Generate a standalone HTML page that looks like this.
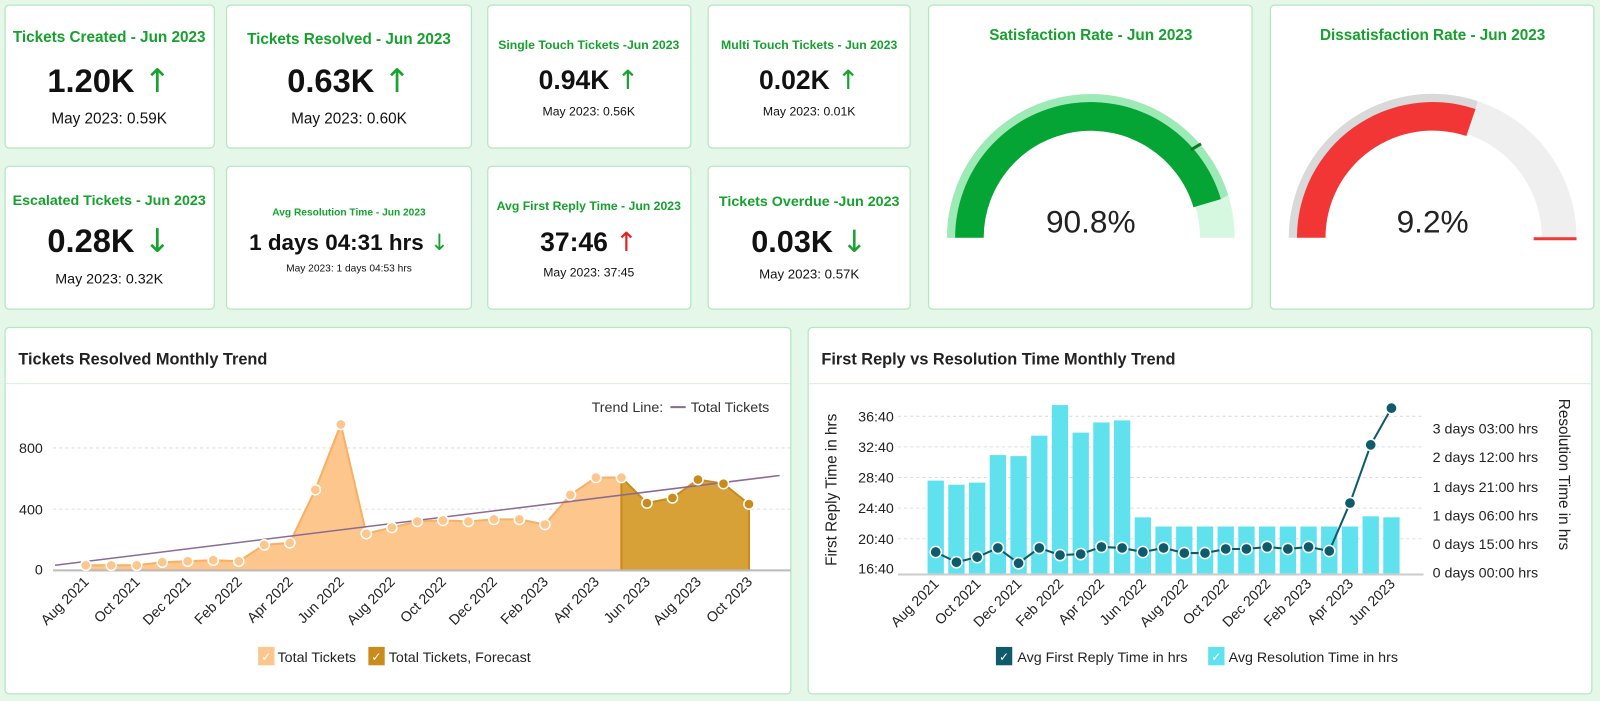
<!DOCTYPE html>
<html><head><meta charset="utf-8"><style>
html,body{margin:0;padding:0;background:#e4f7e9;}
svg{display:block;font-family:"Liberation Sans",sans-serif;}
.t{fill:#16a12e;font-weight:bold;text-anchor:middle;}
.v{fill:#111;font-weight:bold;text-anchor:middle;}
.s{fill:#111;text-anchor:middle;}
.ar{font-family:"DejaVu Sans",sans-serif;font-weight:normal;fill:#17a32f;}
.ax{fill:#222;font-size:14px;}
</style></head><body>
<svg width="1600" height="701" viewBox="0 0 1568 687" preserveAspectRatio="none">
<rect width="1568" height="687" fill="#e4f7e9"/>
<g fill="#fff" stroke="#b4e6c2" stroke-width="1.2">
<rect x="5" y="5" width="205" height="140" rx="4"/>
<rect x="222" y="5" width="240" height="140" rx="4"/>
<rect x="478" y="5" width="199" height="140" rx="4"/>
<rect x="694" y="5" width="198" height="140" rx="4"/>
<rect x="5" y="163" width="205" height="140" rx="4"/>
<rect x="222" y="163" width="240" height="140" rx="4"/>
<rect x="478" y="163" width="199" height="140" rx="4"/>
<rect x="694" y="163" width="198" height="140" rx="4"/>
<rect x="910" y="5" width="317" height="298" rx="4"/>
<rect x="1245" y="5" width="317" height="298" rx="4"/>
<rect x="5" y="321" width="770" height="359" rx="4"/>
<rect x="792" y="321" width="768" height="359" rx="4"/>
</g>
<!-- KPI row 1 -->
<text class="t" x="107" y="41" font-size="15">Tickets Created - Jun 2023</text>
<text class="v" x="107" y="90" font-size="32">1.20K <tspan class="ar">↑</tspan></text>
<text class="s" x="107" y="121" font-size="15">May 2023: 0.59K</text>
<text class="t" x="342" y="43" font-size="15">Tickets Resolved - Jun 2023</text>
<text class="v" x="342" y="90" font-size="32">0.63K <tspan class="ar">↑</tspan></text>
<text class="s" x="342" y="121" font-size="15">May 2023: 0.60K</text>
<text class="t" x="577" y="48" font-size="12">Single Touch Tickets -Jun 2023</text>
<text class="v" x="577" y="87" font-size="26">0.94K <tspan class="ar">↑</tspan></text>
<text class="s" x="577" y="113" font-size="12">May 2023: 0.56K</text>
<text class="t" x="793" y="48" font-size="12">Multi Touch Tickets - Jun 2023</text>
<text class="v" x="793" y="87" font-size="26">0.02K <tspan class="ar">↑</tspan></text>
<text class="s" x="793" y="113" font-size="12">May 2023: 0.01K</text>
<!-- KPI row 2 -->
<text class="t" x="107" y="201" font-size="14">Escalated Tickets - Jun 2023</text>
<text class="v" x="107" y="247" font-size="32">0.28K <tspan class="ar">↓</tspan></text>
<text class="s" x="107" y="278" font-size="14">May 2023: 0.32K</text>
<text class="t" x="342" y="211" font-size="10">Avg Resolution Time - Jun 2023</text>
<text class="v" x="342" y="245" font-size="22">1 days 04:31 hrs <tspan class="ar">↓</tspan></text>
<text class="s" x="342" y="266" font-size="10">May 2023: 1 days 04:53 hrs</text>
<text class="t" x="577" y="206" font-size="12">Avg First Reply Time - Jun 2023</text>
<text class="v" x="577" y="246" font-size="26">37:46 <tspan class="ar" style="fill:#e52222">↑</tspan></text>
<text class="s" x="577" y="271" font-size="12">May 2023: 37:45</text>
<text class="t" x="793" y="202" font-size="14">Tickets Overdue -Jun 2023</text>
<text class="v" x="793" y="247" font-size="30">0.03K <tspan class="ar">↓</tspan></text>
<text class="s" x="793" y="273" font-size="13">May 2023: 0.57K</text>
<!-- Gauge 1 -->
<text class="t" x="1069" y="39" font-size="15">Satisfaction Rate - Jun 2023</text>
<path d="M928,233 A141,141 0 0 1 1210,233 L1176,233 A107,107 0 0 0 962,233 Z" fill="#d6f8e1"/>
<path d="M928,233 A141,141 0 0 1 1203.6,191.2 L1196.5,195.1 A133,133 0 0 0 936,233 Z" fill="#9eeab6"/>
<path d="M936,233 A133,133 0 0 1 1196.5,195.1 L1169.6,203.1 A105,105 0 0 0 964,233 Z" fill="#05a535"/>
<line x1="1167" y1="147" x2="1177" y2="141" stroke="#0a7a2a" stroke-width="3"/>
<text x="1069" y="228" font-size="31" fill="#222" text-anchor="middle">90.8%</text>
<!-- Gauge 2 -->
<text class="t" x="1404" y="39" font-size="15">Dissatisfaction Rate - Jun 2023</text>
<path d="M1263,233 A141,141 0 0 1 1545,233 L1511,233 A107,107 0 0 0 1297,233 Z" fill="#efefef"/>
<path d="M1263,233 A141,141 0 0 1 1448,99 L1446,107 A133,133 0 0 0 1271,233 Z" fill="#d9d9d9"/>
<path d="M1271,233 A133,133 0 0 1 1446,106.8 L1437,133.3 A105,105 0 0 0 1299,233 Z" fill="#f23636"/>
<line x1="1503" y1="234" x2="1545" y2="234" stroke="#f23636" stroke-width="3"/>
<text x="1404" y="228" font-size="31" fill="#222" text-anchor="middle">9.2%</text>
<!-- Left chart -->
<text x="18" y="357" font-size="16" font-weight="bold" fill="#222">Tickets Resolved Monthly Trend</text>
<line x1="6" y1="376" x2="774" y2="376" stroke="#d6f0dd"/>
<text x="650" y="404" font-size="14" fill="#333" text-anchor="end">Trend Line:</text>
<line x1="657" y1="399" x2="672" y2="399" stroke="#8b6a94" stroke-width="2"/>
<text x="677" y="404" font-size="14" fill="#333">Total Tickets</text>
<g stroke="#ddd" stroke-dasharray="3,3"><line x1="52" y1="439" x2="775" y2="439"/><line x1="52" y1="499" x2="775" y2="499"/></g>
<g class="ax" text-anchor="end"><text x="42" y="444">800</text><text x="42" y="504">400</text><text x="42" y="563">0</text></g>
<path d="M84,554 L109,554 134,554 159,551 184,550 209,549 234,550 259,534 284,532 309,480 334,416 359,523 384,517 409,511 434,510 459,511 484,509 509,509 534,514 559,485 584,468 609,468 L609,559 L84,559 Z" fill="#fdc68c" stroke="#f8b064" stroke-width="2"/>
<path d="M609,468 L634,493 659,488 684,470 709,474 734,494 L734,559 L609,559 Z" fill="#d8a137" stroke="#c98b1c" stroke-width="2"/>
<line x1="52" y1="559" x2="775" y2="559" stroke="#bbb" stroke-width="2"/>
<line x1="54" y1="554" x2="764" y2="466" stroke="#8b6a94" stroke-width="1.5"/>
<g fill="#fdc68c" stroke="#fff" stroke-width="1.5">
<circle cx="84" cy="554" r="5"/><circle cx="109" cy="554" r="5"/><circle cx="134" cy="554" r="5"/><circle cx="159" cy="551" r="5"/><circle cx="184" cy="550" r="5"/><circle cx="209" cy="549" r="5"/><circle cx="234" cy="550" r="5"/><circle cx="259" cy="534" r="5"/><circle cx="284" cy="532" r="5"/><circle cx="309" cy="480" r="5"/><circle cx="334" cy="416" r="5"/><circle cx="359" cy="523" r="5"/><circle cx="384" cy="517" r="5"/><circle cx="409" cy="511" r="5"/><circle cx="434" cy="510" r="5"/><circle cx="459" cy="511" r="5"/><circle cx="484" cy="509" r="5"/><circle cx="509" cy="509" r="5"/><circle cx="534" cy="514" r="5"/><circle cx="559" cy="485" r="5"/><circle cx="584" cy="468" r="5"/><circle cx="609" cy="468" r="5"/>
</g>
<g fill="#c98b1c" stroke="#fff" stroke-width="1.5">
<circle cx="634" cy="493" r="5"/><circle cx="659" cy="488" r="5"/><circle cx="684" cy="470" r="5"/><circle cx="709" cy="474" r="5"/><circle cx="734" cy="494" r="5"/>
</g>
<g class="ax" text-anchor="end">
<text transform="translate(88,571) rotate(-45)">Aug 2021</text>
<text transform="translate(138,571) rotate(-45)">Oct 2021</text>
<text transform="translate(188,571) rotate(-45)">Dec 2021</text>
<text transform="translate(238,571) rotate(-45)">Feb 2022</text>
<text transform="translate(288,571) rotate(-45)">Apr 2022</text>
<text transform="translate(338,571) rotate(-45)">Jun 2022</text>
<text transform="translate(388,571) rotate(-45)">Aug 2022</text>
<text transform="translate(438,571) rotate(-45)">Oct 2022</text>
<text transform="translate(488,571) rotate(-45)">Dec 2022</text>
<text transform="translate(538,571) rotate(-45)">Feb 2023</text>
<text transform="translate(588,571) rotate(-45)">Apr 2023</text>
<text transform="translate(638,571) rotate(-45)">Jun 2023</text>
<text transform="translate(688,571) rotate(-45)">Aug 2023</text>
<text transform="translate(738,571) rotate(-45)">Oct 2023</text>
</g>
<rect x="253" y="634" width="16" height="18" fill="#fdc68c"/><text x="256" y="648" font-size="12" fill="#fff">✓</text>
<text x="272" y="649" font-size="14" fill="#222">Total Tickets</text>
<rect x="361" y="634" width="16" height="18" fill="#c98b1c"/><text x="364" y="648" font-size="12" fill="#fff">✓</text>
<text x="381" y="649" font-size="14" fill="#222">Total Tickets, Forecast</text>
<!-- Right chart -->
<text x="805" y="357" font-size="16" font-weight="bold" fill="#222">First Reply vs Resolution Time Monthly Trend</text>
<line x1="793" y1="376" x2="1559" y2="376" stroke="#d6f0dd"/>
<g stroke="#ddd" stroke-dasharray="3,3">
<line x1="880" y1="408" x2="1395" y2="408"/><line x1="880" y1="438" x2="1395" y2="438"/><line x1="880" y1="468" x2="1395" y2="468"/><line x1="880" y1="498" x2="1395" y2="498"/><line x1="880" y1="528" x2="1395" y2="528"/>
</g>
<g class="ax" text-anchor="end"><text x="876" y="413">36:40</text><text x="876" y="443">32:40</text><text x="876" y="473">28:40</text><text x="876" y="503">24:40</text><text x="876" y="533">20:40</text><text x="876" y="562">16:40</text></g>
<g class="ax"><text x="1404" y="425">3 days 03:00 hrs</text><text x="1404" y="453">2 days 12:00 hrs</text><text x="1404" y="482">1 days 21:00 hrs</text><text x="1404" y="510">1 days 06:00 hrs</text><text x="1404" y="538">0 days 15:00 hrs</text><text x="1404" y="566">0 days 00:00 hrs</text></g>
<text transform="translate(820,480) rotate(-90)" font-size="15" fill="#222" text-anchor="middle">First Reply Time in hrs</text>
<text transform="translate(1528,465) rotate(90)" font-size="15" fill="#222" text-anchor="middle">Resolution Time in hrs</text>
<g fill="#5fe2ee">
<rect x="909" y="471" width="16" height="91"/><rect x="929.3" y="475" width="16" height="87"/><rect x="949.6" y="473" width="16" height="89"/><rect x="969.9" y="446" width="16" height="116"/><rect x="990.2" y="447" width="16" height="115"/><rect x="1010.5" y="427" width="16" height="135"/><rect x="1030.8" y="397" width="16" height="165"/><rect x="1051.1" y="424" width="16" height="138"/><rect x="1071.4" y="414" width="16" height="148"/><rect x="1091.7" y="412" width="16" height="150"/><rect x="1112" y="507" width="16" height="55"/><rect x="1132.3" y="516" width="16" height="46"/><rect x="1152.6" y="516" width="16" height="46"/><rect x="1172.9" y="516" width="16" height="46"/><rect x="1193.2" y="516" width="16" height="46"/><rect x="1213.5" y="516" width="16" height="46"/><rect x="1233.8" y="516" width="16" height="46"/><rect x="1254.1" y="516" width="16" height="46"/><rect x="1274.4" y="516" width="16" height="46"/><rect x="1294.7" y="516" width="16" height="46"/><rect x="1315" y="516" width="16" height="46"/><rect x="1335.3" y="506" width="16" height="56"/><rect x="1355.6" y="507" width="16" height="55"/>
</g>
<line x1="880" y1="563" x2="1395" y2="563" stroke="#ccc" stroke-width="2"/>
<polyline fill="none" stroke="#0f5a6b" stroke-width="2" points="917,541 937.3,551 957.6,546 977.9,537 998.2,552 1018.5,537 1038.8,544 1059.1,543 1079.4,536 1099.7,537 1120,541 1140.3,537 1160.6,542 1180.9,542 1201.2,538 1221.5,538 1241.8,536 1262.1,538 1282.4,536 1302.7,540 1323,493 1343.3,436 1363.6,400"/>
<g fill="#0f5a6b" stroke="#fff" stroke-width="1.5">
<circle cx="917" cy="541" r="5.5"/><circle cx="937.3" cy="551" r="5.5"/><circle cx="957.6" cy="546" r="5.5"/><circle cx="977.9" cy="537" r="5.5"/><circle cx="998.2" cy="552" r="5.5"/><circle cx="1018.5" cy="537" r="5.5"/><circle cx="1038.8" cy="544" r="5.5"/><circle cx="1059.1" cy="543" r="5.5"/><circle cx="1079.4" cy="536" r="5.5"/><circle cx="1099.7" cy="537" r="5.5"/><circle cx="1120" cy="541" r="5.5"/><circle cx="1140.3" cy="537" r="5.5"/><circle cx="1160.6" cy="542" r="5.5"/><circle cx="1180.9" cy="542" r="5.5"/><circle cx="1201.2" cy="538" r="5.5"/><circle cx="1221.5" cy="538" r="5.5"/><circle cx="1241.8" cy="536" r="5.5"/><circle cx="1262.1" cy="538" r="5.5"/><circle cx="1282.4" cy="536" r="5.5"/><circle cx="1302.7" cy="540" r="5.5"/><circle cx="1323" cy="493" r="5.5"/><circle cx="1343.3" cy="436" r="5.5"/><circle cx="1363.6" cy="400" r="5.5"/>
</g>
<g class="ax" text-anchor="end">
<text transform="translate(921,573) rotate(-45)">Aug 2021</text>
<text transform="translate(962,573) rotate(-45)">Oct 2021</text>
<text transform="translate(1002,573) rotate(-45)">Dec 2021</text>
<text transform="translate(1043,573) rotate(-45)">Feb 2022</text>
<text transform="translate(1083,573) rotate(-45)">Apr 2022</text>
<text transform="translate(1124,573) rotate(-45)">Jun 2022</text>
<text transform="translate(1165,573) rotate(-45)">Aug 2022</text>
<text transform="translate(1205,573) rotate(-45)">Oct 2022</text>
<text transform="translate(1246,573) rotate(-45)">Dec 2022</text>
<text transform="translate(1286,573) rotate(-45)">Feb 2023</text>
<text transform="translate(1327,573) rotate(-45)">Apr 2023</text>
<text transform="translate(1368,573) rotate(-45)">Jun 2023</text>
</g>
<rect x="976" y="634" width="16" height="18" fill="#0f5a6b"/><text x="979" y="648" font-size="12" fill="#fff">✓</text>
<text x="997" y="649" font-size="14" fill="#222">Avg First Reply Time in hrs</text>
<rect x="1184" y="634" width="16" height="18" fill="#5fe2ee"/><text x="1187" y="648" font-size="12" fill="#fff">✓</text>
<text x="1204" y="649" font-size="14" fill="#222">Avg Resolution Time in hrs</text>
</svg>
</body></html>
